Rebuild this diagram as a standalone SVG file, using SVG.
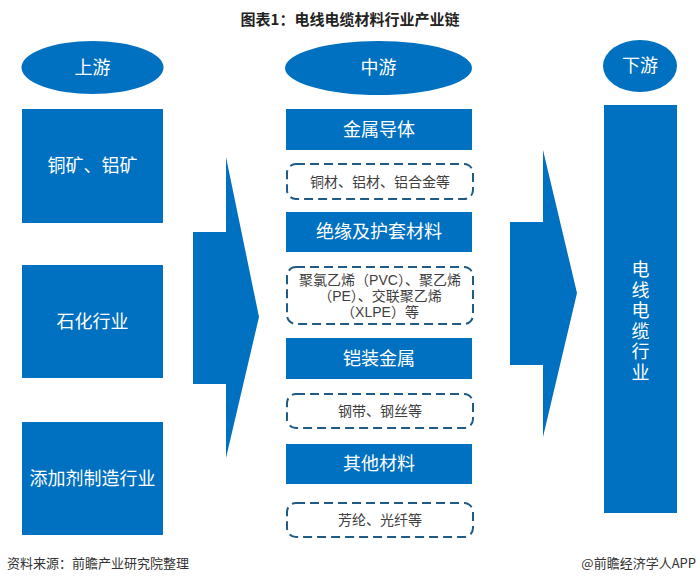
<svg xmlns="http://www.w3.org/2000/svg" width="700" height="581" viewBox="0 0 700 581">
<style>
.bg{fill:#ffffff}
.blue{fill:#0070C0}
.dash{fill:#ffffff;stroke:#1f5b86;stroke-width:2;stroke-dasharray:9 5}
.t{font-family:"Liberation Sans","Noto Sans CJK SC",sans-serif;text-anchor:middle;dominant-baseline:central}
.w{fill:#ffffff;font-size:18px}
.d{fill:#404040;font-size:14px}
.title{font-family:"Noto Sans CJK SC",sans-serif;font-weight:bold;font-size:15px;fill:#222;text-anchor:middle}
.src{font-family:"Noto Sans CJK SC",sans-serif;font-size:13px;fill:#333}
</style>
<rect class="bg" x="0" y="0" width="700" height="581"/>
<text class="title" x="350" y="25">图表1：电线电缆材料行业产业链</text>

<g id="connectors">
<polygon class="blue" points="193,232 226,232 226,157 259,317 226,458 226,384 193,384"/>
<polygon class="blue" points="510,222 543,222 543,150 577,293 543,437 543,365 510,365"/>
</g>

<g id="upstream-header">
<ellipse class="blue" cx="92.5" cy="67.5" rx="71" ry="26.5"/>
<text class="t w" x="92.5" y="67.5">上游</text>
</g>
<g id="up-1">
<rect class="blue" x="22" y="109" width="141" height="114"/>
<text class="t w" x="92.5" y="166">铜矿、铝矿</text>
</g>
<g id="up-2">
<rect class="blue" x="22" y="265" width="141" height="113"/>
<text class="t w" x="92.5" y="321.5">石化行业</text>
</g>
<g id="up-3">
<rect class="blue" x="22" y="422" width="141" height="113"/>
<text class="t w" x="92.5" y="478.5">添加剂制造行业</text>
</g>

<g id="mid-header">
<ellipse class="blue" cx="378.5" cy="68" rx="93.5" ry="27"/>
<text class="t w" x="378.5" y="68">中游</text>
</g>
<g id="mid-1">
<rect class="blue" x="286" y="109" width="186" height="41"/>
<text class="t w" x="379" y="129.5">金属导体</text>
</g>
<g id="mid-1-detail">
<rect class="dash" x="287" y="164" width="186" height="35" rx="9"/>
<text class="t d" x="380" y="181.5">铜材、铝材、铝合金等</text>
</g>
<g id="mid-2">
<rect class="blue" x="286" y="212" width="186" height="40"/>
<text class="t w" x="379" y="232">绝缘及护套材料</text>
</g>
<g id="mid-2-detail">
<rect class="dash" x="287" y="267" width="186" height="57" rx="9"/>
<text class="t d" x="380" y="280">聚氯乙烯（PVC）、聚乙烯</text>
<text class="t d" x="380" y="296">（PE）、交联聚乙烯</text>
<text class="t d" x="380" y="312">（XLPE）等</text>
</g>
<g id="mid-3">
<rect class="blue" x="286" y="338" width="186" height="41"/>
<text class="t w" x="379" y="358.5">铠装金属</text>
</g>
<g id="mid-3-detail">
<rect class="dash" x="287" y="394" width="186" height="34" rx="9"/>
<text class="t d" x="380" y="410.5">钢带、钢丝等</text>
</g>
<g id="mid-4">
<rect class="blue" x="286" y="444" width="186" height="40"/>
<text class="t w" x="379" y="464">其他材料</text>
</g>
<g id="mid-4-detail">
<rect class="dash" x="287" y="503" width="186" height="34" rx="9"/>
<text class="t d" x="380" y="519.5">芳纶、光纤等</text>
</g>

<g id="down-header">
<ellipse class="blue" cx="640" cy="66" rx="37" ry="26"/>
<text class="t w" x="640" y="66">下游</text>
</g>
<g id="down-1">
<rect class="blue" x="604" y="105" width="73" height="408"/>
<text class="t w" x="640.5" y="270">电</text>
<text class="t w" x="640.5" y="290.6">线</text>
<text class="t w" x="640.5" y="311.2">电</text>
<text class="t w" x="640.5" y="331.8">缆</text>
<text class="t w" x="640.5" y="352.4">行</text>
<text class="t w" x="640.5" y="373">业</text>
</g>

<text class="src" x="7" y="568">资料来源：前瞻产业研究院整理</text>
<text class="src" x="696" y="568" text-anchor="end">@前瞻经济学人APP</text>
</svg>
